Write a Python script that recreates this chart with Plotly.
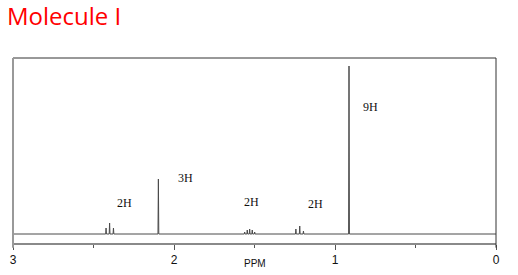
import plotly.graph_objects as go

# Peak data (ppm, relative intensity)
peak_ppm = [2.422, 2.400, 2.376,
            2.097,
            1.561, 1.545, 1.530, 1.514, 1.499,
            1.243, 1.219, 1.196,
            0.913]
peak_height = [6, 11, 6,
               55,
               2, 4, 5, 4, 2,
               5, 8, 3,
               168]

label_text = ["2H", "3H", "2H", "2H", "9H"]
label_ppm = [2.31, 1.93, 1.52, 1.12, 0.78]
label_y = [31, 56, 32, 30, 127]

tick_vals = [3, 2, 1, 0]
tick_text = ["3", "2", "1", "0"]

# Build spectrum trace as baseline with sticks
xs = [3.0]
ys = [0]
half = 0.0025
for p, h in sorted(zip(peak_ppm, peak_height), reverse=True):
    xs += [p + half, p, p - half]
    ys += [0, h, 0]
xs.append(0.0)
ys.append(0)

fig = go.Figure()
fig.add_trace(go.Scatter(x=xs, y=ys, mode="lines",
                         line=dict(color="#4a4a4a", width=1),
                         hoverinfo="skip", showlegend=False))

for t, xp, yp in zip(label_text, label_ppm, label_y):
    fig.add_annotation(x=xp, y=yp, text=t, showarrow=False,
                       font=dict(family="Liberation Serif", size=12, color="#111"))

fig.add_annotation(xref="paper", yref="paper", x=-0.014, y=1.228,
                   text="Molecule I", showarrow=False, xanchor="left", yanchor="middle",
                   borderpad=0,
                   font=dict(family="Open Sans", size=24, color="#ff0000"))

fig.add_annotation(xref="paper", yref="paper", x=0.5, y=-0.113,
                   text="PPM", showarrow=False, xanchor="center", yanchor="middle",
                   font=dict(family="Liberation Sans", size=10, color="#111"))

fig.update_layout(
    width=518, height=275,
    margin=dict(l=12.5, r=22, t=58, b=32, autoexpand=False),
    paper_bgcolor="white", plot_bgcolor="white",
    xaxis=dict(range=[3, 0], showgrid=False, zeroline=False, automargin=False,
               showline=True, linecolor="#8a8a8a", linewidth=2,
               ticks="outside", ticklen=5, tickcolor="#555", tickwidth=1,
               tickvals=tick_vals, ticktext=tick_text,
               minor=dict(tickvals=[2.5, 1.5, 0.5], ticks="outside", ticklen=3,
                          tickcolor="#555", tickwidth=1),
               tickfont=dict(family="Liberation Sans", size=12, color="#111")),
    yaxis=dict(range=[-9, 176], visible=False, fixedrange=True),
    shapes=[
        dict(type="line", xref="paper", yref="paper", x0=0, x1=1, y0=1, y1=1,
             line=dict(color="#333", width=1)),
        dict(type="line", xref="paper", yref="paper", x0=0, x1=0, y0=-0.025, y1=1,
             line=dict(color="#999", width=2)),
        dict(type="line", xref="paper", yref="paper", x0=1, x1=1, y0=-0.025, y1=1,
             line=dict(color="#333", width=1)),
    ],
)

fig.write_html("out.html")
